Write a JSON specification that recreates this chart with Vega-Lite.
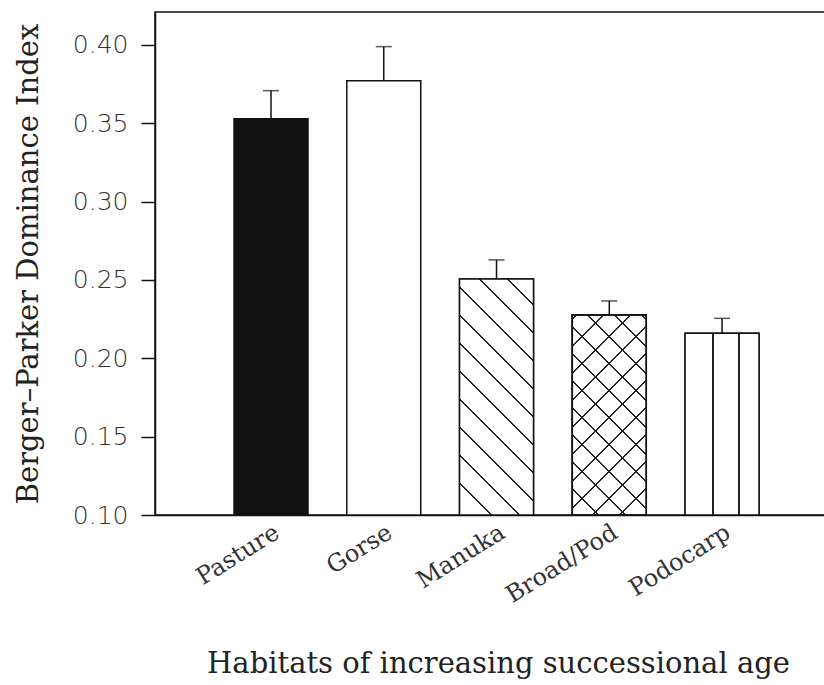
{
  "$schema": "https://vega.github.io/schema/vega-lite/v6.json",
  "autosize": "none",
  "padding": {"left": 155, "top": 12, "right": 0, "bottom": 170},
  "width": 670,
  "height": 503,
  "background": "white",
  "config": {
    "view": {"stroke": "#111", "strokeWidth": 1.5},
    "axisY": {
      "domainColor": "#111", "domainWidth": 1.5, "tickColor": "#111", "tickWidth": 1.5, "tickSize": 14,
      "labelFont": "DejaVu Sans", "labelFontSize": 25, "labelFontWeight": 200, "labelColor": "#333", "labelPadding": 13,
      "grid": false,
      "titleFont": "DejaVu Serif", "titleFontSize": 29, "titleFontWeight": "normal", "titleColor": "#222",
      "titleX": -118, "titleY": 251.5, "titleAngle": -90, "titleBaseline": "alphabetic", "titleAlign": "center"
    },
    "axisX": {
      "domainColor": "#111", "domainWidth": 1.5, "ticks": false,
      "labelFont": "DejaVu Serif", "labelFontSize": 24, "labelColor": "#333", "labelAngle": -32,
      "labelAlign": "right", "labelBaseline": "top", "labelPadding": 5,
      "titleFont": "DejaVu Serif", "titleFontSize": 29, "titleFontWeight": "normal", "titleColor": "#222",
      "titleX": 343, "titleY": 157, "titleBaseline": "alphabetic", "titleAlign": "center"
    }
  },
  "data": {
    "values": [
      {"habitat": "Pasture", "value": 0.3528, "upper": 0.3708},
      {"habitat": "Gorse", "value": 0.3772, "upper": 0.3989},
      {"habitat": "Manuka", "value": 0.2506, "upper": 0.2628},
      {"habitat": "Broad/Pod", "value": 0.2277, "upper": 0.2366},
      {"habitat": "Podocarp", "value": 0.216, "upper": 0.2255}
    ]
  },
  "encoding": {
    "x": {
      "field": "habitat", "type": "nominal", "sort": null,
      "title": "Habitats of increasing successional age",
      "scale": {"paddingInner": 0.344, "paddingOuter": 0.643, "align": 0.545}
    }
  },
  "layer": [
    {
      "mark": {"type": "bar", "stroke": "#111", "strokeWidth": 1.5},
      "encoding": {
        "y": {"field": "value", "type": "quantitative", "title": "Berger–Parker Dominance Index",
              "scale": {"domain": [0.1, 0.421], "zero": false, "nice": false},
              "axis": {"values": [0.1, 0.15, 0.2, 0.25, 0.3, 0.35, 0.4], "format": ".2f"}},
        "y2": {"datum": 0.1},
        "fill": {"condition": {"test": "datum.habitat === 'Pasture'", "value": "#111"}, "value": "white"}
      }
    },
    {
      "transform": [{"filter": "datum.habitat === 'Manuka'"}],
      "mark": {"type": "bar", "stroke": "#111", "strokeWidth": 1.5,
        "fill": {"gradient": "linear", "x1": 0, "y1": 1, "x2": 0.375, "y2": -0.196, "stops": [
          {"offset": 0, "color": "white"},
          {"offset": 0.1, "color": "white"}, {"offset": 0.1, "color": "#222"}, {"offset": 0.1075, "color": "#222"}, {"offset": 0.1075, "color": "white"},
          {"offset": 0.1903, "color": "white"}, {"offset": 0.1903, "color": "#222"}, {"offset": 0.1978, "color": "#222"}, {"offset": 0.1978, "color": "white"},
          {"offset": 0.2806, "color": "white"}, {"offset": 0.2806, "color": "#222"}, {"offset": 0.2881, "color": "#222"}, {"offset": 0.2881, "color": "white"},
          {"offset": 0.371, "color": "white"}, {"offset": 0.371, "color": "#222"}, {"offset": 0.3785, "color": "#222"}, {"offset": 0.3785, "color": "white"},
          {"offset": 0.4613, "color": "white"}, {"offset": 0.4613, "color": "#222"}, {"offset": 0.4688, "color": "#222"}, {"offset": 0.4688, "color": "white"},
          {"offset": 0.5516, "color": "white"}, {"offset": 0.5516, "color": "#222"}, {"offset": 0.5591, "color": "#222"}, {"offset": 0.5591, "color": "white"},
          {"offset": 0.6419, "color": "white"}, {"offset": 0.6419, "color": "#222"}, {"offset": 0.6494, "color": "#222"}, {"offset": 0.6494, "color": "white"},
          {"offset": 0.7323, "color": "white"}, {"offset": 0.7323, "color": "#222"}, {"offset": 0.7398, "color": "#222"}, {"offset": 0.7398, "color": "white"},
          {"offset": 0.8226, "color": "white"}, {"offset": 0.8226, "color": "#222"}, {"offset": 0.8301, "color": "#222"}, {"offset": 0.8301, "color": "white"},
          {"offset": 0.9129, "color": "white"}, {"offset": 0.9129, "color": "#222"}, {"offset": 0.9204, "color": "#222"}, {"offset": 0.9204, "color": "white"},
          {"offset": 1, "color": "white"}
        ]}},
      "encoding": {
        "y": {"field": "value", "type": "quantitative", "title": "Berger–Parker Dominance Index"},
        "y2": {"datum": 0.1}
      }
    },
    {
      "transform": [{"filter": "datum.habitat === 'Broad/Pod'"}],
      "mark": {"type": "bar", "stroke": "#111", "strokeWidth": 1.5,
        "fill": {"gradient": "linear", "x1": 0, "y1": 1, "x2": 0.4459, "y2": -0.205, "stops": [
          {"offset": 0, "color": "white"},
          {"offset": 0.0912, "color": "white"}, {"offset": 0.0912, "color": "#222"}, {"offset": 0.0992, "color": "#222"}, {"offset": 0.0992, "color": "white"},
          {"offset": 0.1898, "color": "white"}, {"offset": 0.1898, "color": "#222"}, {"offset": 0.1978, "color": "#222"}, {"offset": 0.1978, "color": "white"},
          {"offset": 0.2883, "color": "white"}, {"offset": 0.2883, "color": "#222"}, {"offset": 0.2963, "color": "#222"}, {"offset": 0.2963, "color": "white"},
          {"offset": 0.3869, "color": "white"}, {"offset": 0.3869, "color": "#222"}, {"offset": 0.3949, "color": "#222"}, {"offset": 0.3949, "color": "white"},
          {"offset": 0.4854, "color": "white"}, {"offset": 0.4854, "color": "#222"}, {"offset": 0.4934, "color": "#222"}, {"offset": 0.4934, "color": "white"},
          {"offset": 0.5839, "color": "white"}, {"offset": 0.5839, "color": "#222"}, {"offset": 0.5919, "color": "#222"}, {"offset": 0.5919, "color": "white"},
          {"offset": 0.6825, "color": "white"}, {"offset": 0.6825, "color": "#222"}, {"offset": 0.6905, "color": "#222"}, {"offset": 0.6905, "color": "white"},
          {"offset": 0.781, "color": "white"}, {"offset": 0.781, "color": "#222"}, {"offset": 0.789, "color": "#222"}, {"offset": 0.789, "color": "white"},
          {"offset": 0.8796, "color": "white"}, {"offset": 0.8796, "color": "#222"}, {"offset": 0.8876, "color": "#222"}, {"offset": 0.8876, "color": "white"},
          {"offset": 0.9781, "color": "white"}, {"offset": 0.9781, "color": "#222"}, {"offset": 0.9861, "color": "#222"}, {"offset": 0.9861, "color": "white"},
          {"offset": 1, "color": "white"}
        ]}},
      "encoding": {
        "y": {"field": "value", "type": "quantitative", "title": "Berger–Parker Dominance Index"},
        "y2": {"datum": 0.1}
      }
    },
    {
      "transform": [{"filter": "datum.habitat === 'Broad/Pod'"}],
      "mark": {"type": "bar", "stroke": "#111", "strokeWidth": 1.5,
        "fill": {"gradient": "linear", "x1": 0, "y1": 0, "x2": 0.4459, "y2": 1.205, "stops": [
          {"offset": 0, "color": "rgba(255,255,255,0)"},
          {"offset": 0.0109, "color": "rgba(255,255,255,0)"}, {"offset": 0.0109, "color": "#222"}, {"offset": 0.0189, "color": "#222"}, {"offset": 0.0189, "color": "rgba(255,255,255,0)"},
          {"offset": 0.1095, "color": "rgba(255,255,255,0)"}, {"offset": 0.1095, "color": "#222"}, {"offset": 0.1175, "color": "#222"}, {"offset": 0.1175, "color": "rgba(255,255,255,0)"},
          {"offset": 0.208, "color": "rgba(255,255,255,0)"}, {"offset": 0.208, "color": "#222"}, {"offset": 0.216, "color": "#222"}, {"offset": 0.216, "color": "rgba(255,255,255,0)"},
          {"offset": 0.3066, "color": "rgba(255,255,255,0)"}, {"offset": 0.3066, "color": "#222"}, {"offset": 0.3146, "color": "#222"}, {"offset": 0.3146, "color": "rgba(255,255,255,0)"},
          {"offset": 0.4051, "color": "rgba(255,255,255,0)"}, {"offset": 0.4051, "color": "#222"}, {"offset": 0.4131, "color": "#222"}, {"offset": 0.4131, "color": "rgba(255,255,255,0)"},
          {"offset": 0.5036, "color": "rgba(255,255,255,0)"}, {"offset": 0.5036, "color": "#222"}, {"offset": 0.5116, "color": "#222"}, {"offset": 0.5116, "color": "rgba(255,255,255,0)"},
          {"offset": 0.6022, "color": "rgba(255,255,255,0)"}, {"offset": 0.6022, "color": "#222"}, {"offset": 0.6102, "color": "#222"}, {"offset": 0.6102, "color": "rgba(255,255,255,0)"},
          {"offset": 0.7007, "color": "rgba(255,255,255,0)"}, {"offset": 0.7007, "color": "#222"}, {"offset": 0.7087, "color": "#222"}, {"offset": 0.7087, "color": "rgba(255,255,255,0)"},
          {"offset": 0.7993, "color": "rgba(255,255,255,0)"}, {"offset": 0.7993, "color": "#222"}, {"offset": 0.8073, "color": "#222"}, {"offset": 0.8073, "color": "rgba(255,255,255,0)"},
          {"offset": 0.8978, "color": "rgba(255,255,255,0)"}, {"offset": 0.8978, "color": "#222"}, {"offset": 0.9058, "color": "#222"}, {"offset": 0.9058, "color": "rgba(255,255,255,0)"},
          {"offset": 1, "color": "rgba(255,255,255,0)"}
        ]}},
      "encoding": {
        "y": {"field": "value", "type": "quantitative", "title": "Berger–Parker Dominance Index"},
        "y2": {"datum": 0.1}
      }
    },
    {
      "transform": [{"filter": "datum.habitat === 'Podocarp'"}],
      "mark": {"type": "bar", "stroke": "#111", "strokeWidth": 1.5,
        "fill": {"gradient": "linear", "x1": 0, "y1": 0, "x2": 1, "y2": 0, "stops": [
          {"offset": 0, "color": "white"},
          {"offset": 0.37, "color": "white"}, {"offset": 0.37, "color": "#222"}, {"offset": 0.39, "color": "#222"}, {"offset": 0.39, "color": "white"},
          {"offset": 0.72, "color": "white"}, {"offset": 0.72, "color": "#222"}, {"offset": 0.74, "color": "#222"}, {"offset": 0.74, "color": "white"},
          {"offset": 1, "color": "white"}
        ]}},
      "encoding": {
        "y": {"field": "value", "type": "quantitative", "title": "Berger–Parker Dominance Index"},
        "y2": {"datum": 0.1}
      }
    },
    {
      "mark": {"type": "rule", "color": "#111", "strokeWidth": 1.5},
      "encoding": {
        "y": {"field": "upper", "type": "quantitative", "title": "Berger–Parker Dominance Index"},
        "y2": {"field": "value"}
      }
    },
    {
      "mark": {"type": "tick", "color": "#111", "thickness": 1.5, "size": 16, "orient": "horizontal"},
      "encoding": {
        "y": {"field": "upper", "type": "quantitative", "title": "Berger–Parker Dominance Index"}
      }
    }
  ]
}
